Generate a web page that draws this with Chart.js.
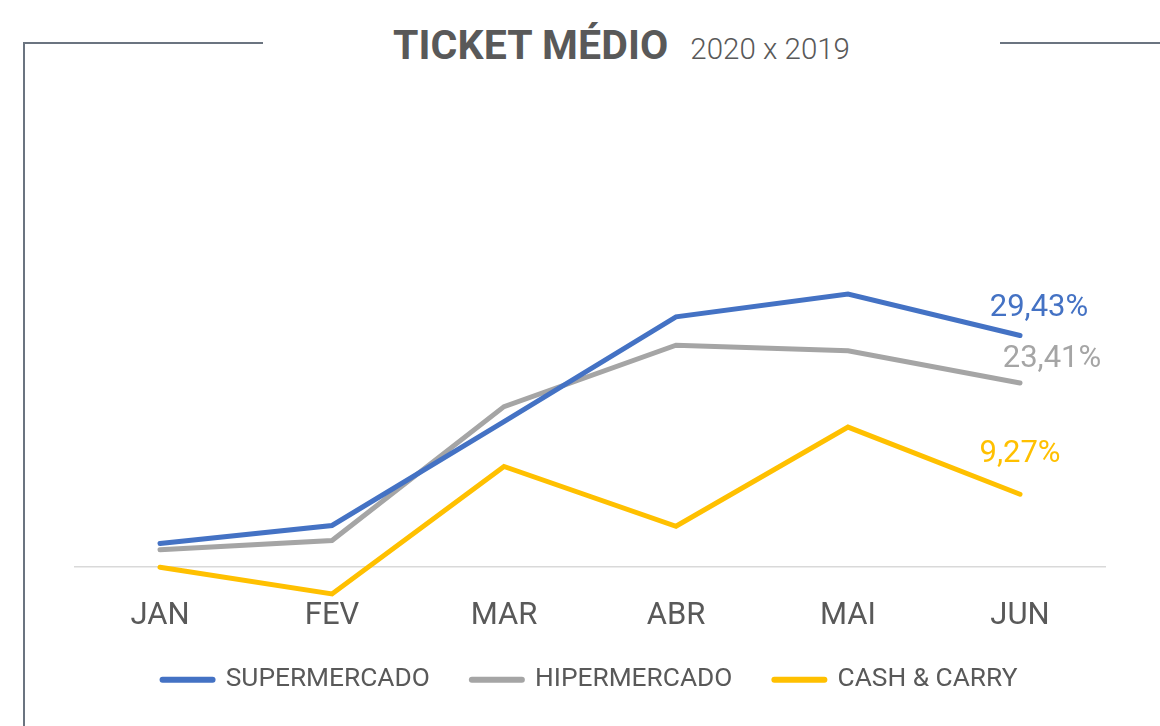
<!DOCTYPE html>
<html>
<head>
<meta charset="utf-8">
<script src="https://cdn.jsdelivr.net/npm/chart.js@4/dist/chart.umd.min.js"></script>
<style>
  html, body { margin: 0; padding: 0; background: #ffffff; }
  body { width: 1160px; height: 726px; position: relative; overflow: hidden; font-family: Roboto, sans-serif; }
  .frame { position: absolute; background: #6b7480; }
  #title { position: absolute; left: 393px; top: 23px; white-space: nowrap; color: #595959; line-height: 44px; }
  #title b { font-weight: 700; font-size: 41px; letter-spacing: 0.1px; }
  #title span { font-weight: 300; font-size: 29.5px; margin-left: 22px; }
  #c { position: absolute; left: 0; top: 0; }
</style>
</head>
<body>
<div class="frame" style="left:23px;top:42px;width:240px;height:2px;"></div>
<div class="frame" style="left:23px;top:42px;width:2px;height:684px;"></div>
<div class="frame" style="left:1000px;top:42px;width:160px;height:2px;"></div>
<div id="title"><b>TICKET MÉDIO</b><span>2020 x 2019</span></div>
<canvas id="c" width="1160" height="726"></canvas>
<script>
const months = ['JAN', 'FEV', 'MAR', 'ABR', 'MAI', 'JUN'];
const seriesNames = ['SUPERMERCADO', 'HIPERMERCADO', 'CASH & CARRY'];
const supermercado = [3.0, 5.3, 18.5, 31.8, 34.7, 29.43];
const hipermercado = [2.2, 3.4, 20.4, 28.2, 27.5, 23.41];
const cashCarry = [0, -3.4, 12.8, 5.2, 17.8, 9.27];

const colors = ['#4472C4', '#A5A5A5', '#FFC000'];
const labelOffsets = [[19, -27], [32, -24], [0, -40]];

const endLabels = {
  id: 'endLabels',
  afterDatasetsDraw(chart) {
    const ctx = chart.ctx;
    ctx.save();
    ctx.font = '400 31px Roboto';
    ctx.textAlign = 'center';
    ctx.textBaseline = 'middle';
    chart.data.datasets.forEach((ds, i) => {
      const meta = chart.getDatasetMeta(i);
      const last = meta.data.length - 1;
      const pt = meta.data[last];
      const v = ds.data[last];
      const txt = v.toFixed(2).replace('.', ',') + '%';
      ctx.fillStyle = ds.borderColor;
      ctx.fillText(txt, pt.x + labelOffsets[i][0], pt.y + labelOffsets[i][1]);
    });
    ctx.restore();
  }
};

function build() {
  const allSeries = [supermercado, hipermercado, cashCarry];
  new Chart(document.getElementById('c'), {
    type: 'line',
    data: {
      labels: months,
      datasets: allSeries.map((d, i) => ({
        label: seriesNames[i],
        data: d,
        borderColor: colors[i],
        backgroundColor: colors[i],
        borderWidth: 5,
        borderCapStyle: 'round',
        borderJoinStyle: 'miter',
        pointRadius: 0,
        pointHoverRadius: 0,
        tension: 0,
        fill: false,
        clip: false
      }))
    },
    options: {
      responsive: false,
      animation: false,
      events: [],
      layout: { padding: { top: 291.7, left: 74, right: 54, bottom: 23 } },
      scales: {
        x: {
          offset: true,
          grid: { display: false, drawTicks: false },
          border: { display: false },
          ticks: { color: '#595959', font: { family: 'Roboto', size: 31 }, padding: 7, maxRotation: 0 },
          afterFit(scale) { scale.height = 33.9; }
        },
        y: {
          min: -3,
          max: 35,
          ticks: { display: false, stepSize: 1 },
          border: { display: false },
          grid: {
            drawTicks: false,
            lineWidth: 1.5,
            color: (c) => (c.tick && c.tick.value === 0 ? '#d9d9d9' : 'rgba(0,0,0,0)')
          }
        }
      },
      plugins: {
        tooltip: { enabled: false },
        legend: {
          position: 'bottom',
          labels: {
            usePointStyle: true,
            pointStyle: 'line',
            pointStyleWidth: 50,
            color: '#595959',
            font: { family: 'Roboto', size: 26.3 },
            padding: 42,
            generateLabels(chart) {
              return chart.data.datasets.map((ds, i) => ({
                text: ds.label,
                fillStyle: ds.borderColor,
                strokeStyle: ds.borderColor,
                lineWidth: 6,
                lineCap: 'round',
                pointStyle: 'line',
                fontColor: '#595959',
                hidden: false,
                datasetIndex: i
              }));
            }
          }
        }
      }
    },
    plugins: [endLabels]
  });
}

Promise.all([
  document.fonts.load('400 31px Roboto'),
  document.fonts.load('700 41px Roboto'),
  document.fonts.load('300 29.5px Roboto')
]).then(build, build);
</script>
</body>
</html>
